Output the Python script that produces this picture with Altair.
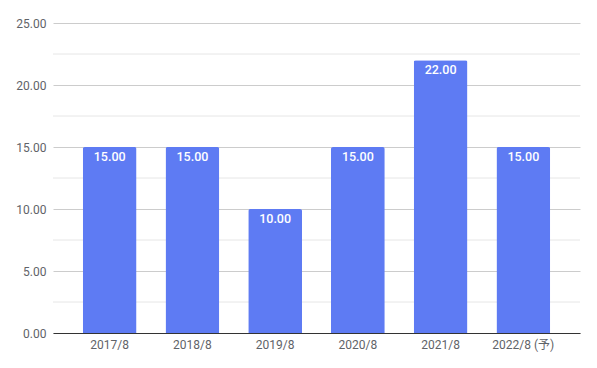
import altair as alt
import pandas as pd

categories = ["2017/8", "2018/8", "2019/8", "2020/8", "2021/8", "2022/8 (予)"]
values = [15.0, 15.0, 10.0, 15.0, 22.0, 15.0]
major_ticks = [0, 5, 10, 15, 20, 25]
minor_ticks = [2.5, 7.5, 12.5, 17.5, 22.5]

df = pd.DataFrame({"cat": categories, "val": values})
FONT = "Roboto, Noto Sans CJK JP, sans-serif"

x = alt.X("cat:N", sort=categories, title=None,
          scale=alt.Scale(paddingInner=0.35, paddingOuter=0.36),
          axis=alt.Axis(labelAngle=0, ticks=False, domainColor="#333333",
                        labelColor="#5f6368", labelFont=FONT, labelFontSize=12,
                        labelPadding=6, grid=False))
y_axis = alt.Axis(values=major_ticks, ticks=False, domain=False, grid=True,
                  gridColor="#cccccc", format=".2f",
                  labelColor="#5f6368", labelFont=FONT, labelFontSize=12,
                  labelPadding=7)
y_scale = alt.Scale(domain=[0, 25], nice=False)

minor = alt.Chart(pd.DataFrame({"val": minor_ticks})).mark_rule(
    color="#e6e6e6", strokeWidth=1).encode(
    y=alt.Y("val:Q", title=None, scale=y_scale, axis=y_axis))

base = alt.Chart(df)
bars = base.mark_bar(color="#5e7bf3", cornerRadiusTopLeft=2, cornerRadiusTopRight=2).encode(
    x=x, y=alt.Y("val:Q", title=None, scale=y_scale, axis=y_axis))
labels = base.mark_text(baseline="top", dy=4, color="white", font=FONT,
                        fontSize=12.5, fontWeight=500).encode(
    x=alt.X("cat:N", sort=categories),
    y="val:Q",
    text=alt.Text("val:Q", format=".2f"))

chart = alt.layer(minor, bars, labels).properties(
    width=527, height=310,
    autosize=alt.AutoSizeParams(type="none"),
    padding={"left": 53, "top": 23, "right": 17, "bottom": 35},
).configure(background="white").configure_view(stroke=None)

chart.save("out.html", embed_options={"renderer": "svg", "actions": False})
